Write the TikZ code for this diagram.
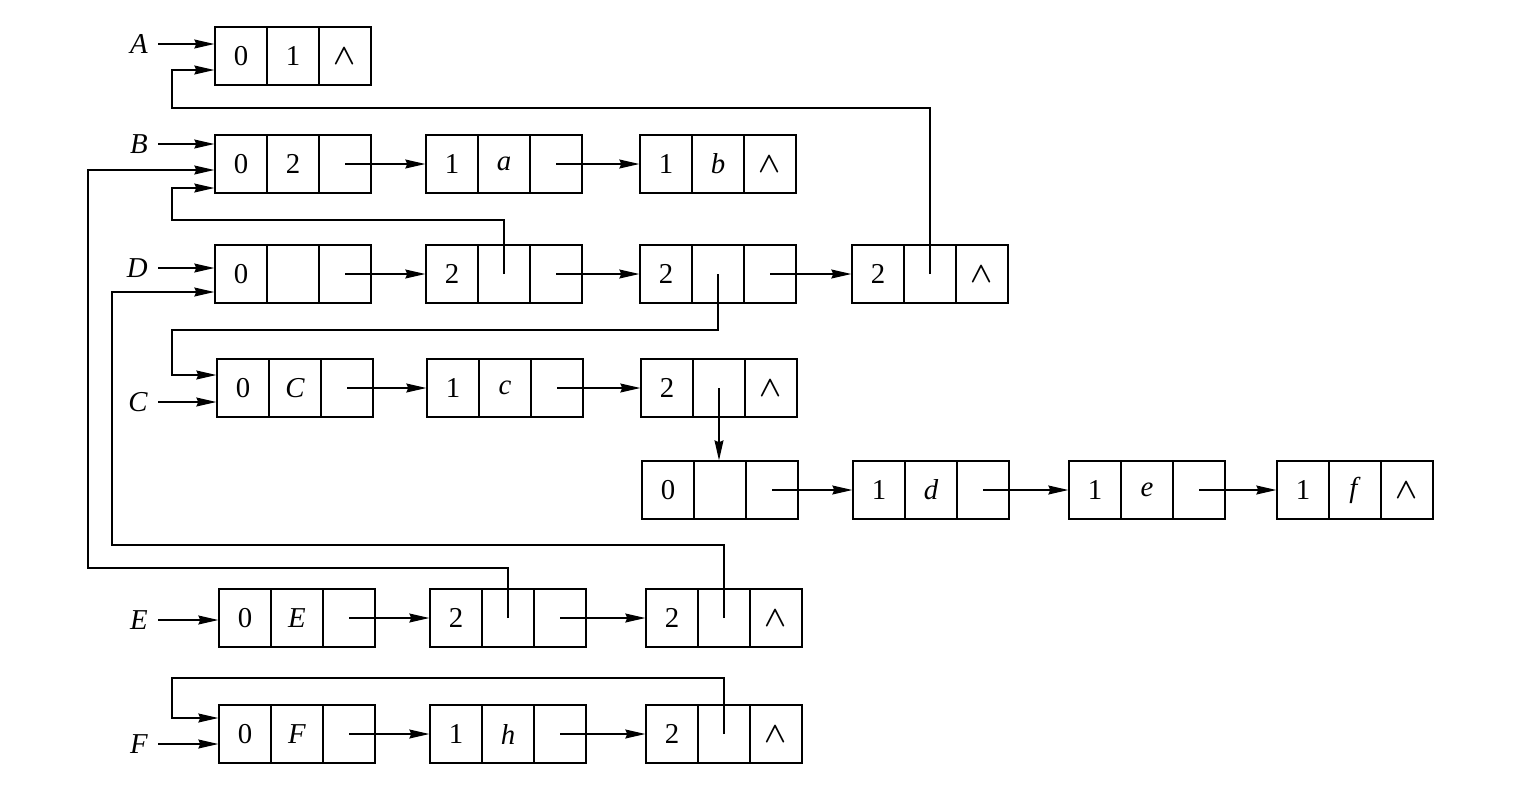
\documentclass[tikz,border=0pt]{standalone}
\usepackage{fontspec}
\setmainfont{Liberation Serif}
\usetikzlibrary{arrows.meta}
\tikzset{
 cell/.style={draw,line width=0.7pt,minimum width=26pt,minimum height=29pt,inner sep=0pt,font=\Large},
 ptr/.style={line width=0.6pt,-{Stealth[length=10pt,width=4.5pt,inset=1pt]}},
 lab/.style={font=\Large\itshape,inner sep=2pt}
}
\newcommand\lbox[6]{%
 \node[cell] (#1a) at (#2+26,#3) {#4};
 \node[cell] (#1b) at (#2+78,#3) {#5};
 \node[cell] (#1c) at (#2+130,#3) {#6};}
\newcommand\nil{$\boldsymbol{\wedge}$}
\usepackage{amsmath}
\begin{document}
\begin{tikzpicture}[x=0.5pt,y=-0.5pt]
\useasboundingbox (0,0) rectangle (1523,789);
\lbox{A1}{215}{56}{0}{1}{\nil}
\lbox{B1}{215}{164}{0}{2}{}
\lbox{B2}{426}{164}{1}{\textit{a}}{}
\lbox{B3}{640}{164}{1}{\textit{b}}{\nil}
\lbox{D1}{215}{274}{0}{}{}
\lbox{D2}{426}{274}{2}{}{}
\lbox{D3}{640}{274}{2}{}{}
\lbox{D4}{852}{274}{2}{}{\nil}
\lbox{C1}{217}{388}{0}{\textit{C}}{}
\lbox{C2}{427}{388}{1}{\textit{c}}{}
\lbox{C3}{641}{388}{2}{}{\nil}
\lbox{S1}{642}{490}{0}{}{}
\lbox{S2}{853}{490}{1}{\textit{d}}{}
\lbox{S3}{1069}{490}{1}{\textit{e}}{}
\lbox{S4}{1277}{490}{1}{\textit{f}}{\nil}
\lbox{E1}{219}{618}{0}{\textit{E}}{}
\lbox{E2}{430}{618}{2}{}{}
\lbox{E3}{646}{618}{2}{}{\nil}
\lbox{F1}{219}{734}{0}{\textit{F}}{}
\lbox{F2}{430}{734}{1}{\textit{h}}{}
\lbox{F3}{646}{734}{2}{}{\nil}
\foreach \a/\b in {B1/B2,B2/B3,D1/D2,D2/D3,D3/D4,C1/C2,C2/C3,S1/S2,S2/S3,S3/S4,E1/E2,E2/E3,F1/F2,F2/F3}
  \draw[ptr] (\a c.center) -- (\b a.west);
\node[lab,anchor=east] (lA) at (152,44) {A};
\node[lab,anchor=east] (lB) at (152,144) {B};
\node[lab,anchor=east] (lD) at (152,268) {D};
\node[lab,anchor=east] (lC) at (152,402) {C};
\node[lab,anchor=east] (lE) at (152,620) {E};
\node[lab,anchor=east] (lF) at (152,744) {F};
\foreach \l/\n in {A/A1,B/B1,D/D1,C/C1,E/E1,F/F1}
  \draw[ptr] ([xshift=3pt]l\l.east) -- (\n a.west |- l\l.east);
\coordinate (pA) at (172,70);
\draw[ptr] (D4b.center) |- (pA |- 0,108) -- (pA) -- (A1a.west |- pA);
\coordinate (pB1) at (88,170);
\draw[ptr] (E2b.center) |- (pB1 |- 0,568) -- (pB1) -- (B1a.west |- pB1);
\coordinate (pB2) at (172,188);
\draw[ptr] (D2b.center) |- (pB2 |- 0,220) -- (pB2) -- (B1a.west |- pB2);
\coordinate (pD) at (112,292);
\draw[ptr] (E3b.center) |- (pD |- 0,545) -- (pD) -- (D1a.west |- pD);
\coordinate (pC) at (172,375);
\draw[ptr] (D3b.center) |- (pC |- 0,330) -- (pC) -- (C1a.west |- pC);
\draw[ptr] (C3b.center) -- (C3b.center |- S1a.north);
\coordinate (pF) at (172,718);
\draw[ptr] (F3b.center) |- (pF |- 0,678) -- (pF) -- (F1a.west |- pF);
\end{tikzpicture}
\end{document}
